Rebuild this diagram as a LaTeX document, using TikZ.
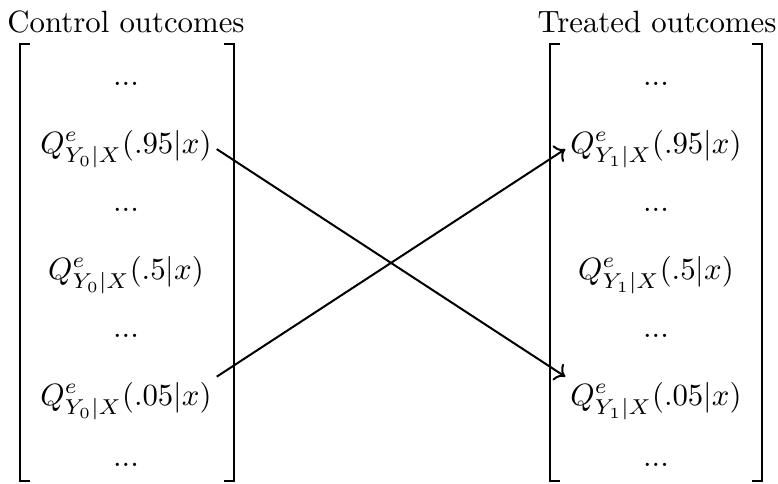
\documentclass[tikz,border=0pt]{standalone}
\usetikzlibrary{arrows.meta}
\begin{document}
\begin{tikzpicture}[x=0.3247pt,y=-0.3247pt,
  cell/.style={anchor=base,inner sep=1.5pt},
  title/.style={anchor=base,inner sep=0pt},
  bracket/.style={line width=0.75pt,line cap=butt,line join=miter},
  link/.style={line width=0.65pt,->}]
\useasboundingbox (0,0) rectangle (778,483);
% titles
\node[title] (tl) at (126,32) {Control outcomes};
\node[title] (tr) at (657,32) {Treated outcomes};
% left column
\node[cell] (l1) at (126,85) {...};
\node[cell] (l2) at (126,153) {$Q^e_{Y_0|X}(.95|x)$};
\node[cell] (l3) at (126,211) {...};
\node[cell] (l4) at (126,279) {$Q^e_{Y_0|X}(.5|x)$};
\node[cell] (l5) at (126,337) {...};
\node[cell] (l6) at (126,405) {$Q^e_{Y_0|X}(.05|x)$};
\node[cell] (l7) at (126,466) {...};
% right column
\node[cell] (r1) at (656,85) {...};
\node[cell] (r2) at (656,153) {$Q^e_{Y_1|X}(.95|x)$};
\node[cell] (r3) at (656,211) {...};
\node[cell] (r4) at (656,279) {$Q^e_{Y_1|X}(.5|x)$};
\node[cell] (r5) at (656,337) {...};
\node[cell] (r6) at (656,405) {$Q^e_{Y_1|X}(.05|x)$};
\node[cell] (r7) at (656,466) {...};
% brackets
\draw[bracket] (30,44) -- (20,44) -- (20,481) -- (30,481);
\draw[bracket] (224,44) -- (234,44) -- (234,481) -- (224,481);
\draw[bracket] (560,44) -- (550,44) -- (550,481) -- (560,481);
\draw[bracket] (752,44) -- (762,44) -- (762,481) -- (752,481);
% arrows
\draw[link] (l2.east) -- (r6.north west);
\draw[link] (l6.north east) -- (r2.west);
\end{tikzpicture}
\end{document}
